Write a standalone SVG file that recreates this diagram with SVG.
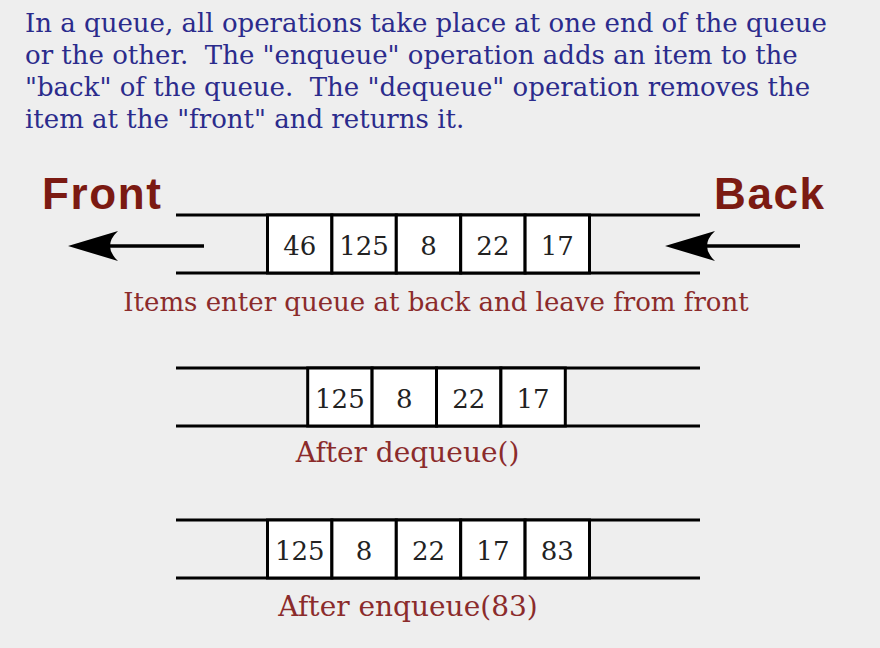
<svg xmlns="http://www.w3.org/2000/svg" width="880" height="648" viewBox="0 0 880 648">
<style>
.intro{font-family:"DejaVu Serif",serif;font-size:26px;fill:#2b2b8c;white-space:pre}
.end{font-family:"Liberation Sans",Arial,sans-serif;font-weight:bold;font-size:44px;letter-spacing:1.6px;fill:#7b1a12}
.cap{font-family:"DejaVu Serif",serif;font-size:28px;fill:#8b2b2b;text-anchor:middle}
.num{font-family:"DejaVu Serif",serif;font-size:26px;fill:#222;text-anchor:middle}
.rail{stroke:#000;stroke-width:3;fill:none}
.box{fill:#fff;stroke:#000;stroke-width:3}
.shaft{stroke:#000;stroke-width:3.5;fill:none}
.head{fill:#000}
</style>
<rect width="880" height="648" fill="#eeeeee"/>
<g id="intro">
<text class="intro" x="25" y="32" xml:space="preserve">In a queue, all operations take place at one end of the queue</text>
<text class="intro" x="25" y="64" xml:space="preserve">or the other.  The "enqueue" operation adds an item to the</text>
<text class="intro" x="25" y="96" xml:space="preserve">"back" of the queue.  The "dequeue" operation removes the</text>
<text class="intro" x="25" y="128" xml:space="preserve">item at the "front" and returns it.</text>
</g>
<g id="front-label"><text class="end" x="42" y="209">Front</text></g>
<g id="back-label"><text class="end" x="714" y="209">Back</text></g>
<g id="connectors">
<line class="shaft" x1="96" y1="246" x2="204" y2="246"/>
<path class="head" d="M68,246 L118,231 Q102,246 118,261 Z"/>
<line class="shaft" x1="693" y1="246" x2="800" y2="246"/>
<path class="head" d="M665,246 L715,231 Q699,246 715,261 Z"/>
</g>
<g id="queue1">
<line class="rail" x1="176" y1="215" x2="700" y2="215"/>
<line class="rail" x1="176" y1="273" x2="700" y2="273"/>
<rect class="box" x="267.5" y="215" width="64.4" height="58"/>
<rect class="box" x="331.9" y="215" width="64.4" height="58"/>
<rect class="box" x="396.3" y="215" width="64.4" height="58"/>
<rect class="box" x="460.7" y="215" width="64.4" height="58"/>
<rect class="box" x="525.1" y="215" width="64.4" height="58"/>
<text class="num" x="299.7" y="255">46</text>
<text class="num" x="364.1" y="255">125</text>
<text class="num" x="428.5" y="255">8</text>
<text class="num" x="492.9" y="255">22</text>
<text class="num" x="557.3" y="255">17</text>
<text class="cap" x="436" y="311" style="font-size:26px">Items enter queue at back and leave from front</text>
</g>
<g id="queue2">
<line class="rail" x1="176" y1="368" x2="700" y2="368"/>
<line class="rail" x1="176" y1="426" x2="700" y2="426"/>
<rect class="box" x="307.7" y="368" width="64.4" height="58"/>
<rect class="box" x="372.1" y="368" width="64.4" height="58"/>
<rect class="box" x="436.5" y="368" width="64.4" height="58"/>
<rect class="box" x="500.9" y="368" width="64.4" height="58"/>
<text class="num" x="339.9" y="408">125</text>
<text class="num" x="404.3" y="408">8</text>
<text class="num" x="468.7" y="408">22</text>
<text class="num" x="533.1" y="408">17</text>
<text class="cap" x="407.5" y="462">After dequeue()</text>
</g>
<g id="queue3">
<line class="rail" x1="176" y1="520" x2="700" y2="520"/>
<line class="rail" x1="176" y1="578" x2="700" y2="578"/>
<rect class="box" x="267.5" y="520" width="64.4" height="58"/>
<rect class="box" x="331.9" y="520" width="64.4" height="58"/>
<rect class="box" x="396.3" y="520" width="64.4" height="58"/>
<rect class="box" x="460.7" y="520" width="64.4" height="58"/>
<rect class="box" x="525.1" y="520" width="64.4" height="58"/>
<text class="num" x="299.7" y="560">125</text>
<text class="num" x="364.1" y="560">8</text>
<text class="num" x="428.5" y="560">22</text>
<text class="num" x="492.9" y="560">17</text>
<text class="num" x="557.3" y="560">83</text>
<text class="cap" x="408" y="616">After enqueue(83)</text>
</g>
</svg>
